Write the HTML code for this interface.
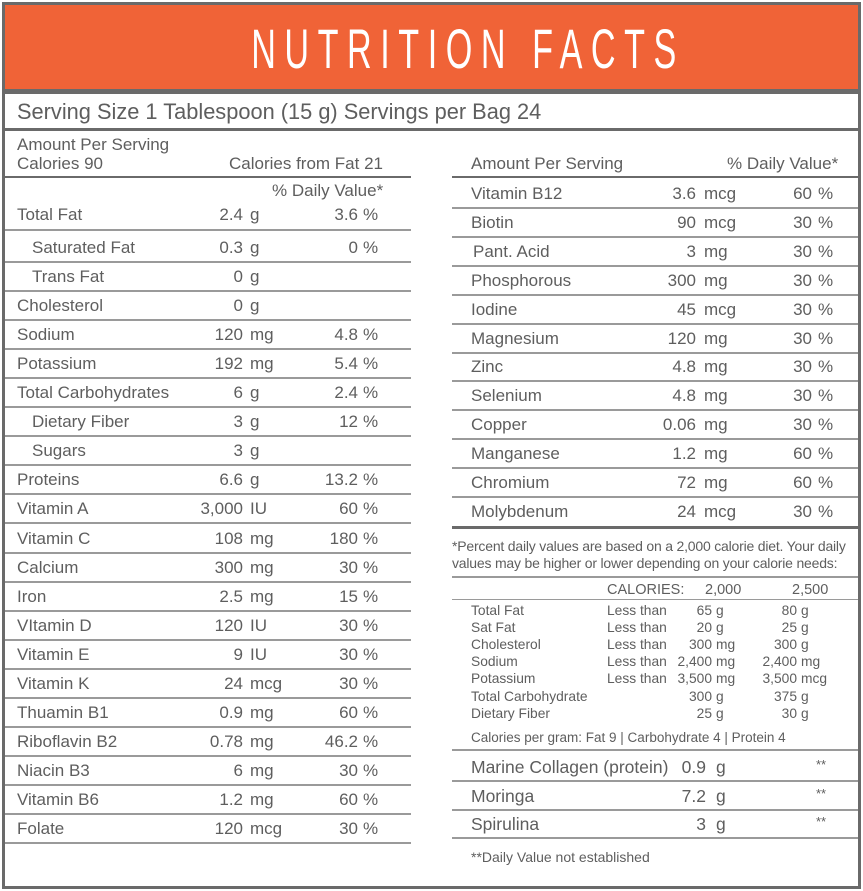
<!DOCTYPE html>
<html><head><meta charset="utf-8">
<style>
html,body{margin:0;padding:0;background:#fff}
#w{position:relative;width:863px;height:891px;overflow:hidden;font-family:"Liberation Sans",sans-serif;color:#5e5e5e}
.frame{position:absolute;left:2px;top:2px;width:853px;height:881px;border:3px solid #6a6a6a}
.hdr{position:absolute;left:5px;top:5px;width:853px;height:84px;background:#f06337}
.title{position:absolute;left:0;top:12px;width:930px;text-align:center;color:#fff;font-size:56px;letter-spacing:14px;line-height:64px;transform:scaleX(0.61);transform-origin:460px 0}
.t{position:absolute;white-space:nowrap;font-size:17px;line-height:18px}
.r{text-align:right}
.ln{position:absolute;background:#9a9a9a;height:2px}
.th{position:absolute;background:#6a6a6a;height:3px}
.s{font-size:13.8px;line-height:14px}
</style></head><body>
<div id="w">
<div class="frame"></div>
<div class="hdr"><div class="title">NUTRITION FACTS</div></div>
<div class="th" style="left:5px;top:89px;width:853px;height:5px"></div>
<div class="t" style="left:17px;top:100px;font-size:21.8px;line-height:24px">Serving Size 1 Tablespoon (15 g) Servings per Bag 24</div>
<div class="th" style="left:5px;top:128px;width:853px"></div>
<div class="t" style="left:17px;top:136px">Amount Per Serving</div>
<div class="t" style="left:17px;top:155px">Calories 90</div>
<div class="t" style="left:229px;top:155px">Calories from Fat 21</div>
<div class="th" style="left:5px;top:176px;width:406px;height:2px"></div>
<div class="t" style="left:272px;top:182px">% Daily Value*</div>
<div class="t" style="left:471px;top:155px">Amount Per Serving</div>
<div class="t" style="left:727px;top:155px">% Daily Value*</div>
<div class="th" style="left:452px;top:176px;width:406px;height:2px"></div>
<div class="th" style="left:452px;top:526px;width:406px;height:3px"></div>
<div class="t" style="left:452px;top:538px;font-size:14px;line-height:17px;letter-spacing:-0.2px">*Percent daily values are based on a 2,000 calorie diet. Your daily<br>values may be higher or lower depending on your calorie needs:</div>
<div class="ln" style="left:452px;top:576px;width:406px"></div>
<div class="t" style="left:607px;top:581px;font-size:14.5px">CALORIES:</div>
<div class="t" style="left:705px;top:581px;font-size:14.5px">2,000</div>
<div class="t" style="left:792px;top:581px;font-size:14.5px">2,500</div>
<div class="ln" style="left:452px;top:599px;width:406px;height:1px"></div>
<div class="t s" style="left:471px;top:731px;font-size:13.5px">Calories per gram: Fat 9 | Carbohydrate 4 | Protein 4</div>
<div class="ln" style="left:452px;top:749px;width:406px"></div>
<div class="t" style="left:471px;top:848px;font-size:14px">**Daily Value not established</div>
</div>
<script>
var W=document.getElementById('w');
function add(cls,css,txt,name){var d=document.createElement('div');d.className=cls;d.style.cssText=css;if(txt!=null)d.textContent=txt;


W.appendChild(d);return d;}
var leftNames=["Total Fat","Saturated Fat","Trans Fat","Cholesterol","Sodium","Potassium","Total Carbohydrates","Dietary Fiber","Sugars","Proteins","Vitamin A","Vitamin C","Calcium","Iron","VItamin D","Vitamin E","Vitamin K","Thuamin B1","Riboflavin B2","Niacin B3","Vitamin B6","Folate"];
var leftIndent=[0,1,1,0,0,0,0,1,1,0,0,0,0,0,0,0,0,0,0,0,0,0];
var leftAmt=["2.4","0.3","0","0","120","192","6","3","3","6.6","3,000","108","300","2.5","120","9","24","0.9","0.78","6","1.2","120"];
var leftUnit=["g","g","g","g","mg","mg","g","g","g","g","IU","mg","mg","mg","IU","IU","mcg","mg","mg","mg","mg","mcg"];
var leftPct=["3.6","0","","","4.8","5.4","2.4","12","","13.2","60","180","30","15","30","30","30","60","46.2","30","60","30"];
var rightNames=["Vitamin B12","Biotin","Pant. Acid","Phosphorous","Iodine","Magnesium","Zinc","Selenium","Copper","Manganese","Chromium","Molybdenum"];
var rightAmt=["3.6","90","3","300","45","120","4.8","4.8","0.06","1.2","72","24"];
var rightUnit=["mcg","mcg","mg","mg","mcg","mg","mg","mg","mg","mg","mg","mcg"];
var rightPct=["60","30","30","30","30","30","30","30","30","60","60","30"];
for(var i=0;i<leftNames.length;i++){
 var y=i==0?206:239+(i-1)*29.05;
 var k=leftNames[i].toLowerCase().replace(/[^a-z0-9]+/g,'-');
 add('t','left:'+(leftIndent[i]?32:17)+'px;top:'+y+'px',leftNames[i],'row-'+k+'-name');
 add('t r','left:160px;width:83px;top:'+y+'px',leftAmt[i],'row-'+k+'-amount');
 add('t','left:250px;top:'+y+'px',leftUnit[i],'row-'+k+'-unit');
 if(leftPct[i]!==''){
  add('t r','left:280px;width:78px;top:'+y+'px',leftPct[i],'row-'+k+'-percent');
  add('t','left:363px;top:'+y+'px','%','row-'+k+'-percent-sign');
 }
 add('ln','left:5px;width:406px;top:'+(i==0?229:261+(i-1)*29.05)+'px','','row-'+k+'-rule');
}
for(var j=0;j<rightNames.length;j++){
 var y2=185+j*28.9;
 var k2=rightNames[j].toLowerCase().replace(/[^a-z0-9]+/g,'-');
 add('t','left:'+(j==2?473:471)+'px;top:'+y2+'px',rightNames[j],'row-'+k2+'-name');
 add('t r','left:610px;width:86px;top:'+y2+'px',rightAmt[j],'row-'+k2+'-amount');
 add('t','left:704px;top:'+y2+'px',rightUnit[j],'row-'+k2+'-unit');
 add('t r','left:755px;width:57px;top:'+y2+'px',rightPct[j],'row-'+k2+'-percent');
 add('t','left:818px;top:'+y2+'px','%','row-'+k2+'-percent-sign');
 if(j<rightNames.length-1)add('ln','left:452px;width:406px;top:'+(207+j*28.9)+'px','','row-'+k2+'-rule');
}
var refNames=["Total Fat","Sat Fat","Cholesterol","Sodium","Potassium","Total Carbohydrate","Dietary Fiber"];
var refLess=["Less than","Less than","Less than","Less than","Less than","",""];
var ref2000=["65","20","300","2,400","3,500","300","25"];
var ref2000u=["g","g","mg","mg","mg","g","g"];
var ref2500=["80","25","300","2,400","3,500","375","30"];
var ref2500u=["g","g","g","mg","mcg","g","g"];
for(var m=0;m<refNames.length;m++){
 var y3=604+m*17.1;
 var k3=refNames[m].toLowerCase().replace(/[^a-z0-9]+/g,'-');
 add('t s','left:471px;top:'+y3+'px',refNames[m],'ref-'+k3+'-name');
 if(refLess[m])add('t s','left:607px;top:'+y3+'px',refLess[m],'ref-'+k3+'-limit');
 add('t s r','left:650px;width:62px;top:'+y3+'px',ref2000[m],'ref-'+k3+'-2000');
 add('t s','left:716px;top:'+y3+'px',ref2000u[m],'ref-'+k3+'-2000-unit');
 add('t s r','left:740px;width:57px;top:'+y3+'px',ref2500[m],'ref-'+k3+'-2500');
 add('t s','left:801px;top:'+y3+'px',ref2500u[m],'ref-'+k3+'-2500-unit');
}
var extraNames=["Marine Collagen (protein)","Moringa","Spirulina"];
var extraAmt=["0.9","7.2","3"];
for(var n=0;n<extraNames.length;n++){
 var y4=758+n*28.6;
 var k4=extraNames[n].toLowerCase().replace(/[^a-z0-9]+/g,'-');
 add('t','left:471px;top:'+y4+'px;font-size:17.5px',extraNames[n],'extra-'+k4+'-name');
 add('t r','left:640px;width:66px;top:'+y4+'px;font-size:17.5px',extraAmt[n],'extra-'+k4+'-amount');
 add('t','left:716px;top:'+y4+'px;font-size:17.5px','g','extra-'+k4+'-unit');
 add('t','left:816px;top:'+(y4-2)+'px;font-size:13px','**','extra-'+k4+'-dv');
 add('ln','left:452px;width:406px;top:'+(780+n*28.6)+'px','','extra-'+k4+'-rule');
}
</script>
</body></html>
